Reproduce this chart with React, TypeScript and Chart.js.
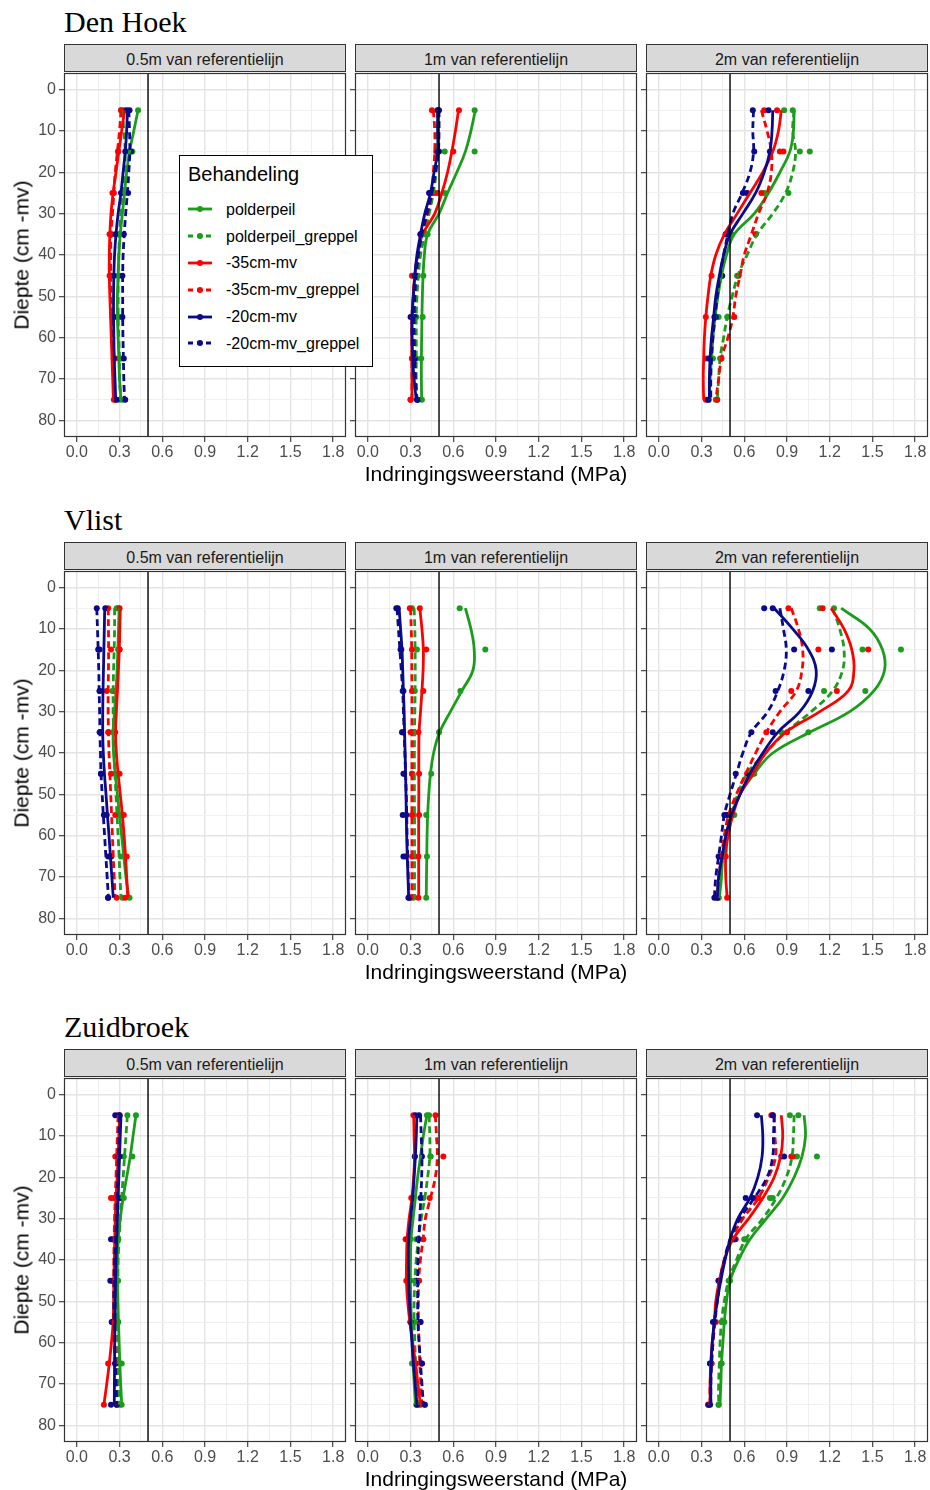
import React, { useEffect, useRef } from 'react';
import { Chart, registerables } from 'chart.js';

Chart.register(...registerables);

// ---------------- data ----------------
const SITES = ['Den Hoek', 'Vlist', 'Zuidbroek'];
const DISTANCES = ['0.5m van referentielijn', '1m van referentielijn', '2m van referentielijn'];
const TREATMENTS = ['polderpeil', 'polderpeil_greppel', '-35cm-mv', '-35cm-mv_greppel', '-20cm-mv', '-20cm-mv_greppel'];
const SERIES_COLORS = ['#1c9c1c', '#1c9c1c', '#ff0000', '#ff0000', '#0a0a8a', '#0a0a8a'];
const SERIES_DASHED = [false, true, false, true, false, true];

const POINT_DEPTHS = [5, 15, 25, 35, 45, 55, 65, 75];
const FIT_DEPTHS = [5, 10, 15, 20, 25, 30, 35, 40, 45, 50, 55, 60, 65, 70, 75];

const X_MAJOR_TICKS = [0, 0.3, 0.6, 0.9, 1.2, 1.5, 1.8];
const X_MINOR_TICKS = [0.15, 0.45, 0.75, 1.05, 1.35, 1.65];
const Y_MAJOR_TICKS = [0, 10, 20, 30, 40, 50, 60, 70, 80];
const Y_MINOR_TICKS = [5, 15, 25, 35, 45, 55, 65, 75];
const X_LIMITS = [-0.09, 1.89];
const Y_LIMITS = [-4, 84];
const REFERENCE_VALUE = 0.5;

const X_TITLE = 'Indringingsweerstand (MPa)';
const Y_TITLE = 'Diepte (cm -mv)';
const LEGEND_TITLE = 'Behandeling';

// Den Hoek
const DH05_PTS = [
  [0.43, 0.39, 0.33, 0.29, 0.30, 0.30, 0.31, 0.32],
  [0.31, 0.36, 0.32, 0.30, 0.29, 0.29, 0.30, 0.30],
  [0.33, 0.29, 0.25, 0.23, 0.23, 0.25, 0.26, 0.26],
  [0.31, 0.29, 0.26, 0.24, 0.24, 0.26, 0.27, 0.27],
  [0.35, 0.34, 0.31, 0.27, 0.26, 0.26, 0.26, 0.28],
  [0.37, 0.38, 0.36, 0.33, 0.32, 0.32, 0.33, 0.34],
];
const DH05_FIT = [
  [0.43, 0.40, 0.37, 0.35, 0.335, 0.32, 0.305, 0.295, 0.29, 0.285, 0.285, 0.29, 0.295, 0.30, 0.31],
  [0.32, 0.33, 0.34, 0.335, 0.325, 0.31, 0.30, 0.295, 0.29, 0.29, 0.29, 0.295, 0.30, 0.30, 0.31],
  [0.335, 0.315, 0.295, 0.275, 0.255, 0.24, 0.232, 0.228, 0.228, 0.232, 0.237, 0.242, 0.247, 0.252, 0.257],
  [0.31, 0.30, 0.285, 0.27, 0.26, 0.25, 0.24, 0.238, 0.238, 0.24, 0.245, 0.25, 0.255, 0.26, 0.265],
  [0.355, 0.35, 0.34, 0.325, 0.31, 0.29, 0.275, 0.265, 0.26, 0.258, 0.258, 0.26, 0.263, 0.268, 0.273],
  [0.365, 0.37, 0.372, 0.365, 0.355, 0.343, 0.333, 0.325, 0.322, 0.322, 0.322, 0.324, 0.327, 0.33, 0.335],
];
const DH1_PTS = [
  [0.75, 0.75, 0.54, 0.42, 0.39, 0.385, 0.375, 0.38],
  [0.49, 0.54, 0.47, 0.39, 0.35, 0.34, 0.34, 0.35],
  [0.64, 0.60, 0.49, 0.37, 0.32, 0.31, 0.31, 0.30],
  [0.45, 0.48, 0.46, 0.37, 0.31, 0.31, 0.31, 0.30],
  [0.49, 0.50, 0.43, 0.37, 0.33, 0.30, 0.32, 0.345],
  [0.50, 0.49, 0.44, 0.38, 0.34, 0.33, 0.33, 0.35],
];
const DH1_FIT = [
  [0.755, 0.724, 0.685, 0.625, 0.56, 0.50, 0.42, 0.397, 0.388, 0.383, 0.38, 0.378, 0.376, 0.376, 0.378],
  [0.49, 0.49, 0.49, 0.48, 0.46, 0.43, 0.40, 0.37, 0.355, 0.345, 0.34, 0.34, 0.34, 0.34, 0.345],
  [0.637, 0.615, 0.59, 0.56, 0.52, 0.47, 0.385, 0.35, 0.33, 0.318, 0.312, 0.31, 0.31, 0.31, 0.31],
  [0.46, 0.47, 0.47, 0.46, 0.45, 0.42, 0.38, 0.35, 0.33, 0.32, 0.31, 0.31, 0.31, 0.31, 0.31],
  [0.49, 0.49, 0.49, 0.465, 0.44, 0.40, 0.37, 0.345, 0.33, 0.32, 0.31, 0.31, 0.315, 0.325, 0.34],
  [0.50, 0.50, 0.495, 0.475, 0.45, 0.415, 0.38, 0.355, 0.34, 0.33, 0.325, 0.325, 0.33, 0.335, 0.345],
];
const DH2_PTS = [
  [0.88, 0.99, 0.74, 0.51, 0.44, 0.42, 0.38, 0.40],
  [0.94, 1.06, 0.91, 0.68, 0.55, 0.48, 0.43, 0.41],
  [0.83, 0.85, 0.62, 0.47, 0.37, 0.33, 0.33, 0.33],
  [0.74, 0.875, 0.72, 0.68, 0.56, 0.53, 0.44, 0.41],
  [0.77, 0.78, 0.62, 0.47, 0.44, 0.40, 0.35, 0.35],
  [0.66, 0.67, 0.59, 0.48, 0.445, 0.39, 0.36, 0.345],
];
const DH2_FIT = [
  [0.95, 0.945, 0.92, 0.85, 0.77, 0.67, 0.53, 0.475, 0.44, 0.415, 0.395, 0.38, 0.37, 0.36, 0.355],
  [0.95, 0.94, 0.96, 0.94, 0.89, 0.80, 0.69, 0.62, 0.555, 0.515, 0.48, 0.455, 0.43, 0.42, 0.41],
  [0.86, 0.84, 0.80, 0.73, 0.64, 0.55, 0.46, 0.40, 0.365, 0.345, 0.33, 0.32, 0.315, 0.312, 0.315],
  [0.72, 0.76, 0.79, 0.79, 0.76, 0.70, 0.65, 0.60, 0.57, 0.54, 0.52, 0.485, 0.44, 0.42, 0.40],
  [0.80, 0.795, 0.78, 0.74, 0.68, 0.59, 0.50, 0.455, 0.425, 0.40, 0.385, 0.37, 0.36, 0.355, 0.355],
  [0.665, 0.66, 0.665, 0.64, 0.585, 0.52, 0.485, 0.455, 0.43, 0.41, 0.395, 0.38, 0.37, 0.365, 0.365],
];

// Vlist
const VL05_PTS = [
  [0.29, 0.30, 0.25, 0.25, 0.27, 0.31, 0.34, 0.37],
  [0.28, 0.29, 0.26, 0.26, 0.27, 0.29, 0.31, 0.32],
  [0.30, 0.30, 0.27, 0.27, 0.30, 0.33, 0.35, 0.34],
  [0.22, 0.24, 0.21, 0.22, 0.24, 0.27, 0.24, 0.28],
  [0.20, 0.16, 0.16, 0.17, 0.17, 0.21, 0.24, 0.22],
  [0.14, 0.15, 0.16, 0.16, 0.17, 0.19, 0.22, 0.22],
];
const VL05_FIT = [
  [0.297, 0.293, 0.288, 0.283, 0.275, 0.265, 0.255, 0.258, 0.27, 0.285, 0.30, 0.315, 0.33, 0.345, 0.365],
  [0.265, 0.265, 0.262, 0.258, 0.255, 0.255, 0.258, 0.262, 0.268, 0.275, 0.282, 0.29, 0.297, 0.303, 0.31],
  [0.305, 0.302, 0.298, 0.292, 0.285, 0.278, 0.272, 0.278, 0.29, 0.305, 0.32, 0.332, 0.342, 0.35, 0.358],
  [0.22, 0.222, 0.223, 0.222, 0.22, 0.22, 0.222, 0.226, 0.232, 0.238, 0.244, 0.25, 0.256, 0.262, 0.27],
  [0.196, 0.193, 0.19, 0.187, 0.184, 0.182, 0.182, 0.186, 0.194, 0.205, 0.215, 0.226, 0.236, 0.246, 0.256],
  [0.14, 0.145, 0.15, 0.154, 0.157, 0.16, 0.163, 0.166, 0.17, 0.178, 0.186, 0.195, 0.204, 0.213, 0.222],
];
const VL1_PTS = [
  [0.645, 0.825, 0.65, 0.50, 0.445, 0.41, 0.415, 0.41],
  [0.31, 0.345, 0.33, 0.32, 0.31, 0.32, 0.33, 0.32],
  [0.365, 0.41, 0.39, 0.355, 0.36, 0.36, 0.355, 0.355],
  [0.295, 0.31, 0.31, 0.30, 0.31, 0.31, 0.31, 0.30],
  [0.21, 0.235, 0.245, 0.24, 0.25, 0.245, 0.25, 0.29],
  [0.20, 0.23, 0.25, 0.245, 0.255, 0.27, 0.265, 0.285],
];
const VL1_FIT = [
  [0.685, 0.724, 0.747, 0.738, 0.66, 0.58, 0.504, 0.462, 0.44, 0.428, 0.42, 0.416, 0.414, 0.412, 0.41],
  [0.325, 0.33, 0.332, 0.333, 0.332, 0.33, 0.328, 0.327, 0.327, 0.327, 0.328, 0.328, 0.328, 0.328, 0.328],
  [0.365, 0.38, 0.39, 0.388, 0.38, 0.37, 0.36, 0.358, 0.358, 0.358, 0.357, 0.357, 0.357, 0.357, 0.357],
  [0.30, 0.305, 0.308, 0.309, 0.31, 0.31, 0.31, 0.31, 0.31, 0.31, 0.31, 0.31, 0.31, 0.31, 0.31],
  [0.22, 0.23, 0.24, 0.245, 0.25, 0.255, 0.258, 0.262, 0.265, 0.268, 0.27, 0.273, 0.277, 0.282, 0.287],
  [0.205, 0.215, 0.225, 0.235, 0.245, 0.25, 0.255, 0.26, 0.265, 0.27, 0.273, 0.276, 0.28, 0.284, 0.288],
];
const VL2_PTS = [
  [1.23, 1.70, 1.45, 1.05, 0.67, 0.53, 0.46, 0.42],
  [1.13, 1.43, 1.16, 0.86, 0.64, 0.51, 0.45, 0.42],
  [1.15, 1.47, 1.25, 0.90, 0.66, 0.49, 0.47, 0.48],
  [0.91, 1.12, 0.93, 0.755, 0.62, 0.48, 0.44, 0.41],
  [0.80, 1.215, 1.05, 0.80, 0.63, 0.48, 0.43, 0.41],
  [0.74, 0.95, 0.82, 0.65, 0.54, 0.46, 0.42, 0.39],
];
const VL2_FIT = [
  [1.28, 1.48, 1.57, 1.585, 1.51, 1.34, 1.06, 0.80, 0.67, 0.57, 0.515, 0.485, 0.45, 0.44, 0.425],
  [1.22, 1.27, 1.30, 1.29, 1.22, 1.07, 0.89, 0.75, 0.62, 0.555, 0.51, 0.47, 0.45, 0.43, 0.42],
  [1.21, 1.30, 1.355, 1.37, 1.33, 1.13, 0.89, 0.75, 0.66, 0.57, 0.52, 0.485, 0.47, 0.47, 0.48],
  [0.93, 0.98, 1.01, 1.005, 0.965, 0.85, 0.755, 0.68, 0.61, 0.545, 0.49, 0.46, 0.44, 0.42, 0.41],
  [0.81, 0.94, 1.05, 1.105, 1.08, 0.99, 0.835, 0.73, 0.64, 0.57, 0.51, 0.47, 0.445, 0.42, 0.41],
  [0.85, 0.875, 0.895, 0.88, 0.835, 0.765, 0.65, 0.59, 0.545, 0.50, 0.46, 0.44, 0.42, 0.40, 0.39],
];

// Zuidbroek
const ZB05_PTS = [
  [0.415, 0.39, 0.33, 0.29, 0.29, 0.29, 0.315, 0.315],
  [0.355, 0.33, 0.31, 0.29, 0.28, 0.29, 0.295, 0.30],
  [0.30, 0.27, 0.24, 0.25, 0.255, 0.255, 0.22, 0.19],
  [0.29, 0.285, 0.26, 0.26, 0.26, 0.26, 0.27, 0.28],
  [0.27, 0.30, 0.305, 0.24, 0.235, 0.245, 0.27, 0.24],
  [0.30, 0.29, 0.28, 0.27, 0.25, 0.25, 0.27, 0.28],
];
const ZB05_FIT = [
  [0.415, 0.395, 0.375, 0.35, 0.325, 0.305, 0.29, 0.285, 0.285, 0.288, 0.292, 0.297, 0.302, 0.308, 0.315],
  [0.355, 0.345, 0.335, 0.325, 0.315, 0.305, 0.297, 0.29, 0.287, 0.285, 0.285, 0.287, 0.29, 0.292, 0.295],
  [0.30, 0.295, 0.29, 0.283, 0.275, 0.27, 0.266, 0.263, 0.26, 0.258, 0.255, 0.243, 0.228, 0.21, 0.19],
  [0.29, 0.285, 0.28, 0.275, 0.27, 0.265, 0.262, 0.26, 0.26, 0.262, 0.265, 0.268, 0.272, 0.276, 0.28],
  [0.31, 0.305, 0.30, 0.295, 0.29, 0.285, 0.28, 0.275, 0.272, 0.27, 0.268, 0.266, 0.265, 0.264, 0.263],
  [0.30, 0.297, 0.293, 0.288, 0.283, 0.278, 0.272, 0.266, 0.262, 0.26, 0.262, 0.266, 0.27, 0.275, 0.28],
];
const ZB1_PTS = [
  [0.415, 0.44, 0.31, 0.30, 0.30, 0.30, 0.31, 0.34],
  [0.43, 0.44, 0.39, 0.34, 0.33, 0.33, 0.33, 0.355],
  [0.32, 0.33, 0.305, 0.265, 0.27, 0.30, 0.34, 0.37],
  [0.475, 0.53, 0.435, 0.39, 0.36, 0.37, 0.38, 0.40],
  [0.335, 0.33, 0.32, 0.28, 0.29, 0.30, 0.33, 0.345],
  [0.36, 0.38, 0.37, 0.355, 0.345, 0.37, 0.38, 0.40],
];
const ZB1_FIT = [
  [0.415, 0.39, 0.37, 0.35, 0.334, 0.318, 0.303, 0.30, 0.299, 0.302, 0.306, 0.312, 0.318, 0.326, 0.334],
  [0.43, 0.435, 0.435, 0.42, 0.40, 0.375, 0.355, 0.34, 0.33, 0.325, 0.325, 0.33, 0.335, 0.34, 0.35],
  [0.322, 0.325, 0.328, 0.322, 0.31, 0.29, 0.276, 0.272, 0.271, 0.28, 0.295, 0.315, 0.335, 0.352, 0.369],
  [0.474, 0.482, 0.488, 0.474, 0.44, 0.404, 0.388, 0.369, 0.357, 0.355, 0.355, 0.36, 0.365, 0.372, 0.38],
  [0.345, 0.34, 0.334, 0.325, 0.315, 0.30, 0.287, 0.285, 0.287, 0.293, 0.30, 0.31, 0.32, 0.333, 0.345],
  [0.37, 0.375, 0.38, 0.378, 0.372, 0.365, 0.358, 0.352, 0.35, 0.35, 0.352, 0.36, 0.37, 0.38, 0.39],
];
const ZB2_PTS = [
  [0.98, 1.11, 0.80, 0.61, 0.50, 0.46, 0.44, 0.42],
  [0.92, 0.97, 0.78, 0.60, 0.49, 0.44, 0.44, 0.42],
  [0.80, 0.94, 0.68, 0.54, 0.425, 0.40, 0.37, 0.345],
  [0.79, 0.93, 0.70, 0.52, 0.42, 0.39, 0.37, 0.35],
  [0.69, 0.88, 0.61, 0.53, 0.42, 0.39, 0.36, 0.36],
  [0.80, 0.86, 0.66, 0.53, 0.42, 0.38, 0.36, 0.35],
];
const ZB2_FIT = [
  [1.02, 1.03, 1.005, 0.95, 0.87, 0.755, 0.64, 0.56, 0.50, 0.475, 0.46, 0.45, 0.44, 0.435, 0.43],
  [0.95, 0.945, 0.935, 0.895, 0.825, 0.73, 0.61, 0.545, 0.49, 0.46, 0.44, 0.43, 0.425, 0.42, 0.42],
  [0.86, 0.87, 0.855, 0.81, 0.73, 0.63, 0.52, 0.46, 0.425, 0.40, 0.39, 0.375, 0.365, 0.36, 0.36],
  [0.81, 0.815, 0.82, 0.77, 0.70, 0.59, 0.51, 0.46, 0.43, 0.41, 0.395, 0.38, 0.37, 0.36, 0.36],
  [0.72, 0.73, 0.725, 0.695, 0.64, 0.555, 0.50, 0.465, 0.435, 0.41, 0.39, 0.375, 0.367, 0.365, 0.365],
  [0.81, 0.805, 0.80, 0.76, 0.67, 0.57, 0.50, 0.46, 0.43, 0.41, 0.39, 0.38, 0.37, 0.365, 0.365],
];

const PANEL_DATA = [
  [{ points: DH05_PTS, fits: DH05_FIT }, { points: DH1_PTS, fits: DH1_FIT }, { points: DH2_PTS, fits: DH2_FIT }],
  [{ points: VL05_PTS, fits: VL05_FIT }, { points: VL1_PTS, fits: VL1_FIT }, { points: VL2_PTS, fits: VL2_FIT }],
  [{ points: ZB05_PTS, fits: ZB05_FIT }, { points: ZB1_PTS, fits: ZB1_FIT }, { points: ZB2_PTS, fits: ZB2_FIT }],
];

// ---------------- layout ----------------
const SANS = '"Liberation Sans", Arial, Helvetica, sans-serif';
const SERIF = '"Liberation Serif", "Times New Roman", serif';
const ROW_TOPS = [44, 542, 1049];
const COL_LEFTS = [64, 355, 646];
const PLOT_W = 282;
const PLOT_H = 365;
const STRIP_H = 28;
const Y_AXIS_W_FIRST = 40;
const Y_AXIS_W_INNER = 8;
const PAD_T = 2;
const PAD_R = 3;
const X_AXIS_H = 30;
const LINE_W = 2.8;
const POINT_R = 3;

const X_ALL = [...X_MAJOR_TICKS, ...X_MINOR_TICKS].sort((a, b) => a - b);
const Y_ALL = [...Y_MAJOR_TICKS, ...Y_MINOR_TICKS].sort((a, b) => a - b);
const X_MAJOR_SET = new Set(X_MAJOR_TICKS);
const Y_MAJOR_SET = new Set(Y_MAJOR_TICKS);

function gridFor(isMajor: (v: number) => boolean) {
  return {
    color: (c: any) => (c.tick && isMajor(c.tick.value) ? '#e4e4e4' : '#efefef'),
    lineWidth: (c: any) => (c.tick && isMajor(c.tick.value) ? 1.4 : 1),
    tickColor: (c: any) => (c.tick && isMajor(c.tick.value) ? '#333333' : 'rgba(0,0,0,0)'),
    tickLength: 5,
    tickWidth: 1.1,
    drawTicks: true,
    drawOnChartArea: true,
  };
}

const panelBorder = {
  id: 'panelBorder',
  afterDatasetsDraw(chart: any) {
    const { ctx, chartArea: a } = chart;
    ctx.save();
    ctx.strokeStyle = '#333333';
    ctx.lineWidth = 1.2;
    ctx.strokeRect(a.left + 0.5, a.top + 0.5, a.right - a.left - 1, a.bottom - a.top - 1);
    ctx.restore();
  },
};

function Panel({ row, col }: { row: number; col: number }) {
  const ref = useRef<HTMLCanvasElement>(null);
  const yW = col === 0 ? Y_AXIS_W_FIRST : Y_AXIS_W_INNER;
  const w = yW + PLOT_W + PAD_R;
  const h = PAD_T + PLOT_H + X_AXIS_H;
  const left = COL_LEFTS[col] - yW;
  const top = ROW_TOPS[row] + STRIP_H - PAD_T;

  useEffect(() => {
    const { points, fits } = PANEL_DATA[row][col];
    const datasets: any[] = [];
    TREATMENTS.forEach((name, s) => {
      datasets.push({
        label: name + ' (punten)',
        data: POINT_DEPTHS.map((d, i) => ({ x: points[s][i], y: d })),
        showLine: false,
        pointRadius: POINT_R,
        pointHoverRadius: POINT_R,
        pointBackgroundColor: SERIES_COLORS[s],
        pointBorderColor: SERIES_COLORS[s],
        pointBorderWidth: 0,
        order: 20 - s,
      });
      datasets.push({
        label: name,
        data: FIT_DEPTHS.map((d, i) => ({ x: fits[s][i], y: d })),
        showLine: true,
        pointRadius: 0,
        pointHoverRadius: 0,
        borderColor: SERIES_COLORS[s],
        borderWidth: LINE_W,
        borderDash: SERIES_DASHED[s] ? [7, 4] : [],
        borderCapStyle: 'butt',
        tension: 0.4,
        fill: false,
        order: 10 - s,
      });
    });
    datasets.push({
      label: 'referentie',
      data: [{ x: REFERENCE_VALUE, y: Y_LIMITS[0] }, { x: REFERENCE_VALUE, y: Y_LIMITS[1] }],
      showLine: true,
      pointRadius: 0,
      borderColor: '#000000',
      borderWidth: 1.4,
      order: 0,
    });

    const chart = new Chart(ref.current as HTMLCanvasElement, {
      type: 'scatter',
      data: { datasets },
      options: {
        animation: false,
        responsive: false,
        devicePixelRatio: 1,
        events: [],
        layout: { padding: { top: PAD_T, right: PAD_R, left: 0, bottom: 0 } },
        plugins: { legend: { display: false }, tooltip: { enabled: false } },
        scales: {
          x: {
            type: 'linear',
            min: X_LIMITS[0],
            max: X_LIMITS[1],
            afterBuildTicks: (s: any) => {
              s.ticks = X_ALL.map((v) => ({ value: v }));
            },
            afterFit: (s: any) => {
              s.height = X_AXIS_H;
              s.paddingLeft = 0;
              s.paddingRight = 0;
              s.paddingTop = 0;
              s.paddingBottom = 0;
            },
            ticks: {
              autoSkip: false,
              maxRotation: 0,
              minRotation: 0,
              padding: 1,
              color: '#4d4d4d',
              font: { family: SANS, size: 16 },
              callback: (v: any) => (X_MAJOR_SET.has(v) ? Number(v).toFixed(1) : ''),
            },
            grid: gridFor((v) => X_MAJOR_SET.has(v)),
            border: { display: false },
          },
          y: {
            type: 'linear',
            reverse: true,
            min: Y_LIMITS[0],
            max: Y_LIMITS[1],
            afterBuildTicks: (s: any) => {
              s.ticks = Y_ALL.map((v) => ({ value: v }));
            },
            afterFit: (s: any) => {
              s.width = yW;
              s.paddingTop = 0;
              s.paddingBottom = 0;
              s.paddingLeft = 0;
              s.paddingRight = 0;
            },
            ticks: {
              autoSkip: false,
              padding: 3,
              color: '#4d4d4d',
              font: { family: SANS, size: 16 },
              callback: (v: any) => (col === 0 && Y_MAJOR_SET.has(v) ? String(v) : ''),
            },
            grid: gridFor((v) => Y_MAJOR_SET.has(v)),
            border: { display: false },
          },
        },
      } as any,
      plugins: [panelBorder],
    });
    return () => chart.destroy();
  }, [row, col]);

  return (
    <canvas
      ref={ref}
      width={w}
      height={h}
      style={{ position: 'absolute', left, top, width: w, height: h }}
    />
  );
}

function Row({ r }: { r: number }) {
  const stripTop = ROW_TOPS[r];
  const plotTop = stripTop + STRIP_H;
  return (
    <>
      <div
        style={{
          position: 'absolute', left: 64, top: stripTop - 37.1, fontFamily: SERIF,
          fontSize: 30, lineHeight: '30px', color: '#000', whiteSpace: 'nowrap',
        }}
      >
        {SITES[r]}
      </div>
      {DISTANCES.map((d, c) => (
        <div
          key={d}
          style={{
            position: 'absolute', left: COL_LEFTS[c], top: stripTop, width: PLOT_W, height: STRIP_H,
            boxSizing: 'border-box', background: '#d9d9d9', border: '1px solid #333',
          }}
        >
          <div
            style={{
              position: 'absolute', left: 0, right: 0, top: 6.5, textAlign: 'center',
              fontFamily: SANS, fontSize: 16, lineHeight: '16px', color: '#1a1a1a', whiteSpace: 'nowrap',
            }}
          >
            {d}
          </div>
        </div>
      ))}
      {[0, 1, 2].map((c) => (
        <Panel key={c} row={r} col={c} />
      ))}
      <div
        style={{
          position: 'absolute', left: 64, width: 864, top: stripTop + 419.2, textAlign: 'center',
          fontFamily: SANS, fontSize: 21, lineHeight: '21px', color: '#000', whiteSpace: 'nowrap',
        }}
      >
        {X_TITLE}
      </div>
      <div
        style={{
          position: 'absolute', left: 21, top: plotTop + PLOT_H / 2, transform: 'translate(-50%, -50%) rotate(-90deg)',
          fontFamily: SANS, fontSize: 21, lineHeight: '21px', color: '#000', whiteSpace: 'nowrap',
        }}
      >
        {Y_TITLE}
      </div>
    </>
  );
}

function Legend() {
  return (
    <div
      style={{
        position: 'absolute', left: 179, top: 155, width: 192, height: 210, border: '1px solid #000',
        background: '#fff', fontFamily: SANS, color: '#000',
      }}
    >
      <div style={{ position: 'absolute', left: 8, top: 8.1, fontSize: 20, lineHeight: '20px', whiteSpace: 'nowrap' }}>
        {LEGEND_TITLE}
      </div>
      {TREATMENTS.map((t, i) => {
        const cy = 53.3 + i * 26.8;
        return (
          <React.Fragment key={t}>
            <svg style={{ position: 'absolute', left: 8, top: cy - 6 }} width={24} height={12}>
              <line
                x1={0} y1={6} x2={24} y2={6} stroke={SERIES_COLORS[i]} strokeWidth={LINE_W}
                strokeDasharray={SERIES_DASHED[i] ? '5 4' : undefined}
              />
              <circle cx={12} cy={6} r={POINT_R} fill={SERIES_COLORS[i]} />
            </svg>
            <div
              style={{
                position: 'absolute', left: 46, top: cy - 7.5, fontSize: 16, lineHeight: '16px', whiteSpace: 'nowrap',
              }}
            >
              {t}
            </div>
          </React.Fragment>
        );
      })}
    </div>
  );
}

export default function App() {
  return (
    <div style={{ position: 'absolute', left: 0, top: 0, width: 930, height: 1490, background: '#fff', overflow: 'hidden' }}>
      {[0, 1, 2].map((r) => (
        <Row key={r} r={r} />
      ))}
      <Legend />
    </div>
  );
}
